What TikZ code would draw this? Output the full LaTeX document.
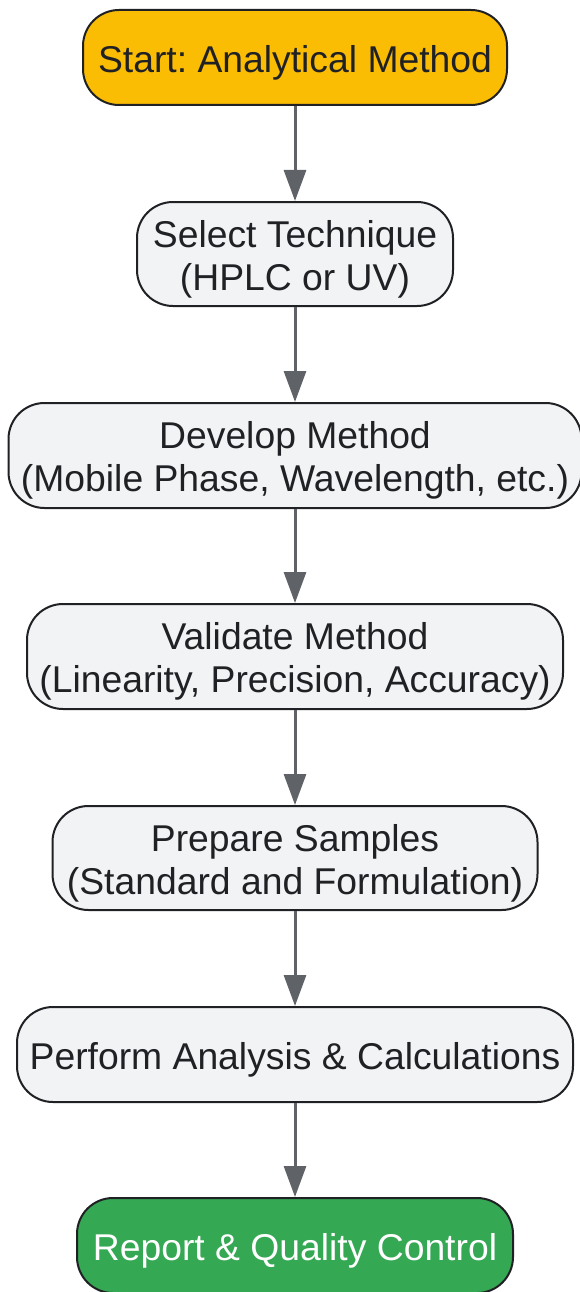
\documentclass[tikz,border=0pt]{standalone}
\usepackage{fontspec}
\setmainfont{Liberation Sans}
\usepackage{tikz}
\usetikzlibrary{arrows.meta}
\definecolor{startfill}{HTML}{FBBC04}
\definecolor{stepfill}{HTML}{F1F3F4}
\definecolor{endfill}{HTML}{34A853}
\definecolor{edgegray}{HTML}{5F6368}
\definecolor{inkdark}{HTML}{202124}
\frenchspacing
\newcommand{\tallline}{\rule{0pt}{37pt}}
\begin{document}
\begin{tikzpicture}[x=1pt,y=-1pt]
				\tikzstyle{every node}+=[inner sep=0pt]
				\tikzstyle{box}=[draw=inkdark, line width=2pt, rounded corners=36pt, align=center, text=inkdark, font=\fontsize{37.3}{43}\selectfont]
				\tikzstyle{flow}=[draw=edgegray, line width=3pt, -{Triangle[length=31pt,width=22pt]}]
				\useasboundingbox (0,0) rectangle (580,1292);
				\node [box, fill=startfill, minimum width=424pt, minimum height=95pt] (start) at (295,57.5) {\tallline Start: Analytical Method};
				\node [box, fill=stepfill, minimum width=316pt, minimum height=104pt] (select) at (295,254) {\tallline Select Technique\\(HPLC or UV)};
				\node [box, fill=stepfill, minimum width=573pt, minimum height=105pt] (develop) at (295,455.5) {\tallline Develop Method\\(Mobile Phase, Wavelength, etc.)};
				\node [box, fill=stepfill, minimum width=536pt, minimum height=105pt] (validate) at (295,656.5) {\tallline Validate Method\\(Linearity, Precision, Accuracy)};
				\node [box, fill=stepfill, minimum width=485pt, minimum height=104pt] (prepare) at (295,858) {\tallline Prepare Samples\\(Standard and Formulation)};
				\node [box, fill=stepfill, minimum width=556pt, minimum height=95pt] (perform) at (295,1054.5) {\tallline Perform Analysis \& Calculations};
				\node [box, fill=endfill, text=white, minimum width=436pt, minimum height=95pt] (report) at (295,1245.5) {\tallline Report \& Quality Control};
				\draw [flow] (start) -- (select);
				\draw [flow] (select) -- (develop);
				\draw [flow] (develop) -- (validate);
				\draw [flow] (validate) -- (prepare);
				\draw [flow] (prepare) -- (perform);
				\draw [flow] (perform) -- (report);
			\end{tikzpicture}
\end{document}
